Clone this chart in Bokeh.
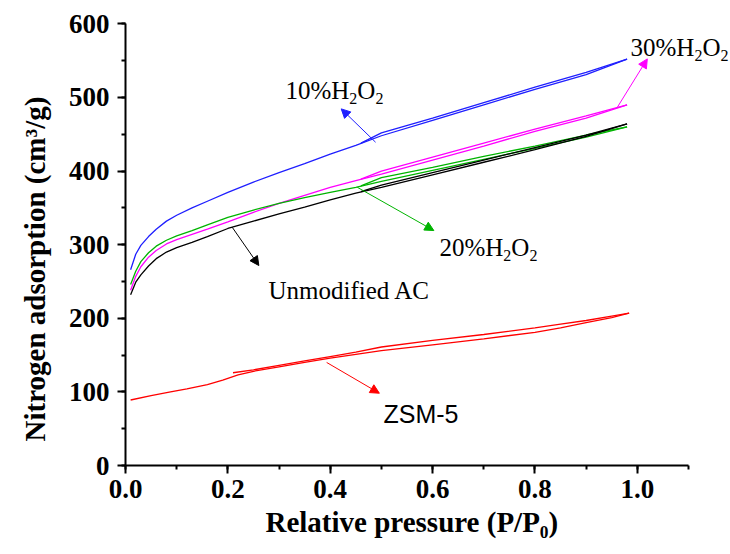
from bokeh.plotting import figure
from bokeh.models import Arrow, NormalHead, Label, SingleIntervalTicker, Range1d, PrintfTickFormatter, Title
from bokeh.embed import file_html
from bokeh.resources import INLINE

# ---------------- data ----------------
ads_x = [0.01, 0.02, 0.03, 0.045, 0.06, 0.08, 0.1, 0.13, 0.16, 0.2, 0.25, 0.3, 0.35, 0.4, 0.45,
         0.5, 0.6, 0.7, 0.8, 0.9, 0.98]
des_x = [0.98, 0.9, 0.8, 0.7, 0.6, 0.5, 0.46]

h2o2_10_ads = [266, 287, 299, 311, 321, 332, 340, 350, 359, 371, 385, 398, 410, 423, 435,
               448, 469, 490, 511, 531, 552]
h2o2_10_des = [552, 534, 514, 493, 472, 452, 438]

h2o2_30_ads = [238, 257, 270, 283, 292, 301, 307, 314, 321, 331, 344, 356, 367, 378, 387,
               396, 415, 434, 454, 472, 490]
h2o2_30_des = [490, 475, 457, 438, 419, 400, 389]

h2o2_20_ads = [246, 264, 277, 289, 298, 306, 312, 319, 327, 337, 347, 356, 364, 371, 378,
               386, 401, 416, 431, 446, 460]
h2o2_20_des = [460, 449, 434, 420, 405, 391, 380]

ac_ads = [232, 249, 259, 271, 281, 290, 296, 303, 311, 322, 332, 342, 351, 361, 370,
          378, 395, 412, 429, 447, 464]
ac_des = [464, 449, 432, 415, 398, 381, 372]

zsm_ads_x = [0.01, 0.05, 0.088, 0.12, 0.16, 0.19, 0.22, 0.25, 0.3, 0.35, 0.4, 0.45, 0.5, 0.6, 0.7, 0.8, 0.85, 0.9, 0.95, 0.984]
zsm_ads = [89, 95, 100, 104, 110, 116, 123, 128, 134, 140, 146, 151, 156, 164, 172, 181, 187, 194, 201, 207]
zsm_des_x = [0.984, 0.95, 0.9, 0.85, 0.8, 0.7, 0.6, 0.5, 0.45, 0.4, 0.35, 0.3, 0.25, 0.21]
zsm_des = [207, 203, 197, 192, 187, 178, 170, 161, 154, 148, 142, 136, 130, 126]

x_ticks_interval = 0.2
y_ticks_interval = 100

# ---------------- figure ----------------
PX_X = 511.8    # pixels per unit of x
PX_Y = 0.7362   # pixels per unit of y
x_end = 1.1 + 42 / PX_X   # frame runs to the window edge so the labels are not clipped

p = figure(width=730, height=554, output_backend="svg", toolbar_location=None,
           x_range=Range1d(0, x_end), y_range=Range1d(0, 600.5),
           min_border_left=125, min_border_right=0, min_border_top=23, min_border_bottom=89)
p.outline_line_color = None
p.grid.visible = False
p.background_fill_color = "white"
p.border_fill_color = "white"

LW = 1.3
series = [
    (h2o2_10_ads, h2o2_10_des, "#1f1fff"),
    (h2o2_30_ads, h2o2_30_des, "#ff00ff"),
    (h2o2_20_ads, h2o2_20_des, "#00b400"),
    (ac_ads, ac_des, "black"),
]
for ads, des, c in series:
    p.line(ads_x, ads, line_color=c, line_width=LW)
    p.line(des_x, des, line_color=c, line_width=LW)
p.line(zsm_ads_x, zsm_ads, line_color="red", line_width=LW)
p.line(zsm_des_x, zsm_des, line_color="red", line_width=LW)

# ---------------- axes ----------------
for ax in (p.xaxis[0], p.yaxis[0]):
    ax.axis_line_width = 2
    ax.major_tick_line_width = 2
    ax.minor_tick_line_width = 2
    ax.major_tick_in = 0
    ax.major_tick_out = 8
    ax.minor_tick_in = 0
    ax.minor_tick_out = 4
    ax.major_label_text_font = "Liberation Serif"
    ax.major_label_text_font_style = "bold"
    ax.major_label_text_font_size = "27px"
    ax.major_label_text_color = "black"

p.xaxis.major_label_standoff = 6
p.yaxis.major_label_standoff = 8

p.xaxis.ticker = SingleIntervalTicker(interval=x_ticks_interval, num_minor_ticks=2)
p.xaxis.formatter = PrintfTickFormatter(format="%.1f")
p.xaxis.bounds = (0, 1.1001)

p.yaxis.ticker = SingleIntervalTicker(interval=y_ticks_interval, num_minor_ticks=2)
p.yaxis.bounds = (0, 600.5)

# axis titles (placed as side titles so that they can be positioned like the original)
p.add_layout(Title(text="Relative pressure (P/P\u2080)", align="left", offset=140, standoff=6,
                   text_font="Liberation Serif", text_font_style="bold", text_font_size="29px",
                   text_color="black"), "below")
p.add_layout(Title(text="Nitrogen adsorption (cm\u00b3/g)", align="left", offset=24, standoff=30,
                   text_font="Liberation Serif", text_font_style="bold", text_font_size="29px",
                   text_color="black"), "left")

# ---------------- annotations ----------------
W = {'0': .5, '1': .5, '2': .5, '3': .5, '%': .833, 'H': .722, 'O': .722}
FS = 25
SFS = 16


def formula_label(prefix, x, y, color="black"):
    pieces = [(prefix + "H", False), ("2", True), ("O", False), ("2", True)]
    off = 0.0
    for txt, sub in pieces:
        fs = SFS if sub else FS
        yy = y - (8 / PX_Y if sub else 0)
        p.add_layout(Label(x=x, y=yy, x_offset=off, text=txt, text_font="Liberation Serif",
                           text_font_size=f"{fs}px", text_color=color,
                           text_baseline="alphabetic", text_align="left"))
        off += sum(W[ch] for ch in txt) * fs


formula_label("10%", 0.3126, 509.4)
formula_label("30%", 0.9867, 567.8)
formula_label("20%", 0.6135, 296.1)
p.add_layout(Label(x=0.2794, y=237.7, text="Unmodified AC", text_font="Liberation Serif",
                   text_font_size="25px", text_color="black", text_baseline="alphabetic"))
p.add_layout(Label(x=0.504, y=70.0, text="ZSM-5", text_font="Liberation Sans",
                   text_font_size="25px", text_color="black", text_baseline="alphabetic"))

arrows = [
    (0.4886, 439.2, 0.4215, 484.5, "#1f1fff"),
    (0.961, 486.7, 1.0195, 552.4, "#ff00ff"),
    (0.4528, 378.0, 0.6025, 319.2, "#00b400"),
    (0.2085, 323.7, 0.2605, 271.7, "black"),
    (0.393, 140.0, 0.496, 98.2, "red"),
]
for xs, ys, xe, ye, c in arrows:
    p.add_layout(Arrow(x_start=xs, y_start=ys, x_end=xe, y_end=ye, line_color=c, line_width=1,
                       end=NormalHead(size=9, fill_color=c, line_color=c, line_width=1)))

open("out.html", "w").write(file_html(p, INLINE))
